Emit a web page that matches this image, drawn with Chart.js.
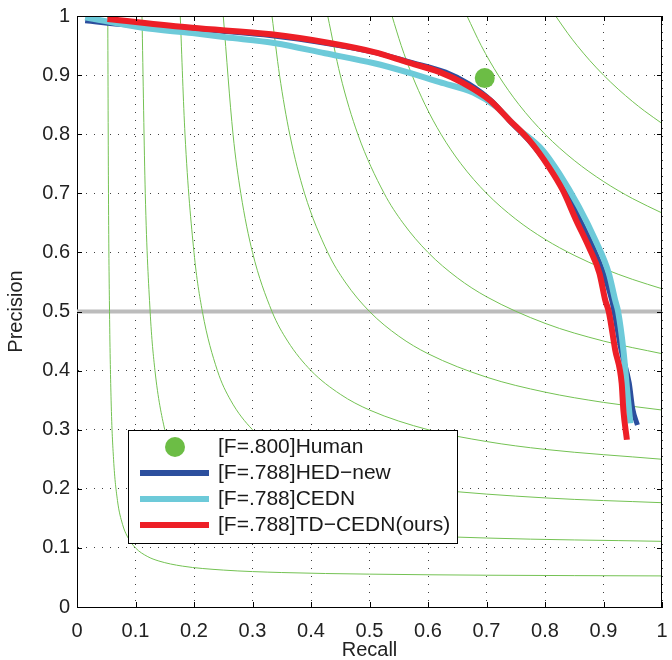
<!DOCTYPE html>
<html>
<head>
<meta charset="utf-8">
<script src="https://cdn.jsdelivr.net/npm/chart.js@4"></script>
<style>
  body { margin: 0; background: #fff; }
  canvas { display: block; }
</style>
</head>
<body>
<canvas id="pr" width="672" height="660"></canvas>
<script>
// Precision / recall curves
const humanRecall = [0.697];
const humanPrecision = [0.895];

const hedRecall = [0.014, 0.085, 0.2, 0.33, 0.43, 0.51, 0.57, 0.63, 0.67, 0.71, 0.74, 0.775, 0.81, 0.838, 0.86, 0.882, 0.9, 0.914, 0.918, 0.93, 0.944, 0.95, 0.958];
const hedPrecision = [0.992, 0.985, 0.978, 0.967, 0.953, 0.938, 0.922, 0.905, 0.885, 0.855, 0.822, 0.786, 0.742, 0.703, 0.655, 0.609, 0.565, 0.519, 0.5, 0.435, 0.379, 0.335, 0.308];

const cednRecall = [0.014, 0.112, 0.197, 0.254, 0.339, 0.424, 0.508, 0.564, 0.62, 0.678, 0.717, 0.751, 0.796, 0.824, 0.858, 0.886, 0.909, 0.92, 0.925, 0.934, 0.942, 0.946];
const cednPrecision = [0.998, 0.98, 0.971, 0.964, 0.954, 0.937, 0.92, 0.905, 0.888, 0.87, 0.846, 0.812, 0.773, 0.734, 0.677, 0.621, 0.565, 0.519, 0.5, 0.435, 0.35, 0.311];

const tdRecall = [0.052, 0.197, 0.332, 0.434, 0.508, 0.564, 0.62, 0.661, 0.705, 0.739, 0.773, 0.807, 0.83, 0.853, 0.875, 0.893, 0.903, 0.909, 0.92, 0.931, 0.934, 0.94];
const tdPrecision = [0.995, 0.98, 0.969, 0.954, 0.939, 0.922, 0.905, 0.886, 0.858, 0.824, 0.79, 0.744, 0.706, 0.655, 0.609, 0.565, 0.519, 0.5, 0.435, 0.379, 0.333, 0.283];

// horizontal reference line at P = 0.5
const chanceRecall = [0, 1];
const chancePrecision = [0.5, 0.5];

// iso-F contours (F = 0.1 ... 0.9), [recall, precision] pairs
const isoF1 = [[0.0526,1],[0.0538,0.7],[0.0556,0.5],[0.0583,0.35],[0.0625,0.25],[0.0692,0.18],[0.0778,0.14],[0.0857,0.12],[0.1,0.1],[0.12,0.0857],[0.14,0.0778],[0.18,0.0692],[0.25,0.0625],[0.35,0.0583],[0.5,0.0556],[0.7,0.0538],[1,0.0526]];
const isoF2 = [[0.1111,1],[0.1167,0.7],[0.125,0.5],[0.1333,0.4],[0.15,0.3],[0.1667,0.25],[0.1818,0.2222],[0.2,0.2],[0.2222,0.1818],[0.25,0.1667],[0.3,0.15],[0.4,0.1333],[0.5,0.125],[0.7,0.1167],[1,0.1111]];
const isoF3 = [[0.1765,1],[0.1846,0.8],[0.2,0.6],[0.2143,0.5],[0.24,0.4],[0.2625,0.35],[0.3,0.3],[0.35,0.2625],[0.4,0.24],[0.5,0.2143],[0.6,0.2],[0.8,0.1846],[1,0.1765]];
const isoF4 = [[0.25,1],[0.2667,0.8],[0.28,0.7],[0.3,0.6],[0.3333,0.5],[0.36,0.45],[0.4,0.4],[0.45,0.36],[0.5,0.3333],[0.6,0.3],[0.7,0.28],[0.8,0.2667],[1,0.25]];
const isoF5 = [[0.3333,1],[0.3462,0.9],[0.3636,0.8],[0.3889,0.7],[0.4286,0.6],[0.4583,0.55],[0.5,0.5],[0.55,0.4583],[0.6,0.4286],[0.7,0.3889],[0.8,0.3636],[0.9,0.3462],[1,0.3333]];
const isoF6 = [[0.4286,1],[0.45,0.9],[0.48,0.8],[0.525,0.7],[0.5571,0.65],[0.6,0.6],[0.65,0.5571],[0.7,0.525],[0.8,0.48],[0.9,0.45],[1,0.4286]];
const isoF7 = [[0.5385,1],[0.5542,0.95],[0.5727,0.9],[0.595,0.85],[0.6222,0.8],[0.6563,0.75],[0.7,0.7],[0.75,0.6563],[0.8,0.6222],[0.85,0.595],[0.9,0.5727],[0.95,0.5542],[1,0.5385]];
const isoF8 = [[0.6667,1],[0.6909,0.95],[0.72,0.9],[0.7556,0.85],[0.8,0.8],[0.85,0.7556],[0.9,0.72],[0.95,0.6909],[1,0.6667]];
const isoF9 = [[0.8182,1],[0.8394,0.97],[0.855,0.95],[0.8763,0.925],[0.9,0.9],[0.925,0.8763],[0.95,0.855],[0.97,0.8394],[1,0.8182]];

const legendLabels = ['[F=.800]Human', '[F=.788]HED\u2212new', '[F=.788]CEDN', '[F=.788]TD\u2212CEDN(ours)'];

const GREEN = '#6cbd45';
const BLUE = '#2c4f9e';
const CYAN = '#6dcad9';
const RED = '#ed1f27';
const CONTOUR = '#74c253';
const FONT = "'Liberation Sans', Arial, Helvetica, sans-serif";

const toPoints = (xs, ys) => xs.map((v, i) => ({ x: v, y: ys[i] }));
const pairPoints = (pairs) => pairs.map(p => ({ x: p[0], y: p[1] }));

const contourSets = [isoF1, isoF2, isoF3, isoF4, isoF5, isoF6, isoF7, isoF8, isoF9].map(c => ({
    data: pairPoints(c),
    showLine: true,
    borderColor: CONTOUR,
    borderWidth: 1,
    pointRadius: 0,
    cubicInterpolationMode: 'monotone',
    order: 5
}));

// legend box + inward ticks + top/right box edges
const framePlugin = {
    id: 'frame',
    afterDraw(chart) {
        const { ctx, chartArea: a, scales: { x, y } } = chart;
        ctx.save();
        ctx.strokeStyle = '#000';
        ctx.lineWidth = 1;
        ctx.beginPath();
        x.ticks.forEach(t => {
            const px = Math.round(x.getPixelForValue(t.value)) + 0.5;
            ctx.moveTo(px, a.bottom); ctx.lineTo(px, a.bottom - 5);
            ctx.moveTo(px, a.top); ctx.lineTo(px, a.top + 5);
        });
        y.ticks.forEach(t => {
            const py = Math.round(y.getPixelForValue(t.value)) + 0.5;
            ctx.moveTo(a.left, py); ctx.lineTo(a.left + 5, py);
            ctx.moveTo(a.right, py); ctx.lineTo(a.right - 5, py);
        });
        ctx.moveTo(a.left, Math.round(a.top) + 0.5); ctx.lineTo(a.right, Math.round(a.top) + 0.5);
        ctx.moveTo(Math.round(a.right) - 0.5, a.top); ctx.lineTo(Math.round(a.right) - 0.5, a.bottom);
        ctx.stroke();

        // legend
        const lx = a.left + 51, ly = a.top + 414, lw = 329, lh = 113;
        ctx.fillStyle = '#fff';
        ctx.fillRect(lx, ly, lw, lh);
        ctx.strokeStyle = '#000';
        ctx.strokeRect(lx + 0.5, ly + 0.5, lw, lh);

        const rowY = (i) => ly + 17 + i * 26;
        ctx.fillStyle = GREEN;
        ctx.beginPath();
        ctx.arc(lx + 47, rowY(0), 10, 0, Math.PI * 2);
        ctx.fill();
        [BLUE, CYAN, RED].forEach((c, i) => {
            ctx.strokeStyle = c;
            ctx.lineWidth = 6;
            ctx.lineCap = 'butt';
            ctx.beginPath();
            ctx.moveTo(lx + 12, rowY(i + 1));
            ctx.lineTo(lx + 81, rowY(i + 1));
            ctx.stroke();
        });
        ctx.fillStyle = '#1a1a1a';
        ctx.font = '21px ' + FONT;
        ctx.textBaseline = 'middle';
        ctx.textAlign = 'left';
        legendLabels.forEach((t, i) => ctx.fillText(t, lx + 90, rowY(i)));
        ctx.restore();
    }
};

const tickFormat = (v) => {
    const r = Math.round(v * 10) / 10;
    return r === 0 ? '0' : r === 1 ? '1' : r.toFixed(1);
};

new Chart(document.getElementById('pr'), {
    type: 'scatter',
    data: {
        datasets: [
            {
                data: toPoints(humanRecall, humanPrecision),
                pointRadius: 10,
                pointBackgroundColor: GREEN,
                pointBorderWidth: 0,
                showLine: false,
                order: 0
            },
            {
                data: toPoints(tdRecall, tdPrecision),
                showLine: true, borderColor: RED, borderWidth: 6, pointRadius: 0,
                cubicInterpolationMode: 'monotone', order: 1
            },
            {
                data: toPoints(cednRecall, cednPrecision),
                showLine: true, borderColor: CYAN, borderWidth: 6, pointRadius: 0,
                cubicInterpolationMode: 'monotone', order: 2
            },
            {
                data: toPoints(hedRecall, hedPrecision),
                showLine: true, borderColor: BLUE, borderWidth: 5, pointRadius: 0,
                cubicInterpolationMode: 'monotone', order: 3
            },
            ...contourSets,
            {
                data: toPoints(chanceRecall, chancePrecision),
                showLine: true, borderColor: '#bcbcbc', borderWidth: 4, pointRadius: 0,
                order: 6
            }
        ]
    },
    options: {
        responsive: false,
        animation: false,
        layout: { padding: { top: 16, right: 6, left: 0, bottom: 0 } },
        plugins: {
            legend: { display: false },
            tooltip: { enabled: false }
        },
        scales: {
            x: {
                type: 'linear', min: 0, max: 1,
                afterFit: (s) => { s.height = 53; s.paddingLeft = 0; s.paddingRight = 0; },
                grid: { color: 'rgba(0,0,0,0.75)', lineWidth: 1, drawTicks: false },
                border: { display: true, color: '#000', width: 1, dash: [1, 7] },
                ticks: {
                    stepSize: 0.1, autoSkip: false, maxRotation: 0, padding: 12,
                    color: '#222', font: { family: FONT, size: 20 },
                    callback: tickFormat
                },
                title: {
                    display: true, text: 'Recall', color: '#222',
                    font: { family: FONT, size: 20, lineHeight: 1 },
                    padding: { top: 0, bottom: 0 }
                }
            },
            y: {
                type: 'linear', min: 0, max: 1,
                afterFit: (s) => { s.width = 77; s.paddingTop = 0; s.paddingBottom = 0; },
                grid: { color: 'rgba(0,0,0,0.75)', lineWidth: 1, drawTicks: false },
                border: { display: true, color: '#000', width: 1, dash: [1, 7] },
                ticks: {
                    stepSize: 0.1, autoSkip: false, padding: 7,
                    color: '#222', font: { family: FONT, size: 20 },
                    callback: tickFormat
                },
                title: {
                    display: true, text: 'Precision', color: '#222',
                    font: { family: FONT, size: 20, lineHeight: 1.2 },
                    padding: { top: 4, bottom: 4 }
                }
            }
        }
    },
    plugins: [framePlugin]
});
</script>
</body>
</html>
